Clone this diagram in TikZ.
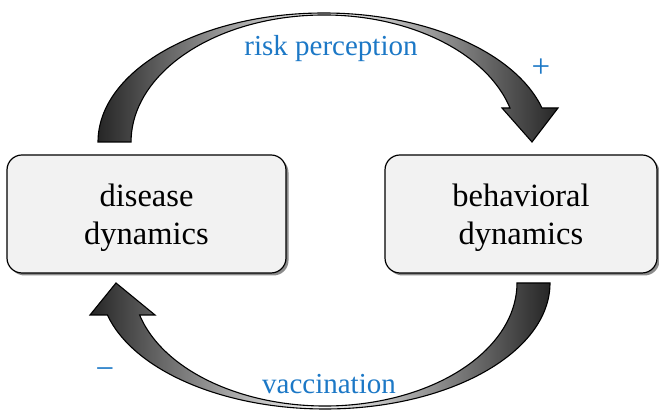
\documentclass[tikz,border=0pt]{standalone}
\usepackage{fontspec}
\setmainfont{Liberation Serif}
\usepackage{tikz}
\usetikzlibrary{shadows}
\definecolor{linkblue}{RGB}{28,120,198}
\definecolor{boxgray}{RGB}{242,242,242}

\begin{document}
\begin{tikzpicture}[x=1pt,y=1pt,
    dynbox/.style={draw, line width=1.2pt, rounded corners=15pt, fill=boxgray,
      minimum width=279pt, minimum height=118pt, align=center, text depth=0pt,
      font=\fontsize{32.5}{38}\selectfont,
      drop shadow={shadow xshift=2.5pt, shadow yshift=-2.5pt, fill=black!45, opacity=1}},
    linklabel/.style={text=linkblue, font=\fontsize{29}{34}\selectfont},
    signlabel/.style={text=linkblue, font=\fontsize{33}{38}\selectfont},
    bandarrow/.style={draw, line width=1.1pt, left color=black!85, right color=black!85, middle color=black!3}]
        \useasboundingbox (0,0) rectangle (659,414);

        % Feedback arrows
        \draw[bandarrow] (98,272) arc[start angle=180, end angle=15.28, x radius=226, y radius=129]
              -- (558,306) -- (532,272) -- (502,306) -- (510,306)
              arc[start angle=15.53, end angle=180, x radius=193, y radius=127] -- cycle;
        \draw[bandarrow] (550,131) arc[start angle=0, end angle=-165.3, x radius=225, y radius=126]
              -- (90,99) -- (116,131) -- (155,99) -- (139.6,99)
              arc[start angle=-164.92, end angle=0, x radius=192, y radius=123] -- cycle;

        % Dynamics
        \node[dynbox] (dis) at (146.5,200) {disease\\dynamics};
        \node[dynbox, minimum width=272pt] (beh) at (521,200) {behavioral\\dynamics};

        % Labels
        \node[linklabel] (risk) at (331,365) {risk perception};
        \node[signlabel] (plus) at (541,346) {+};
        \node[signlabel] (minus) at (105,40) {−};
        \node[linklabel] (vacc) at (329,30) {vaccination};
\end{tikzpicture}
\end{document}
